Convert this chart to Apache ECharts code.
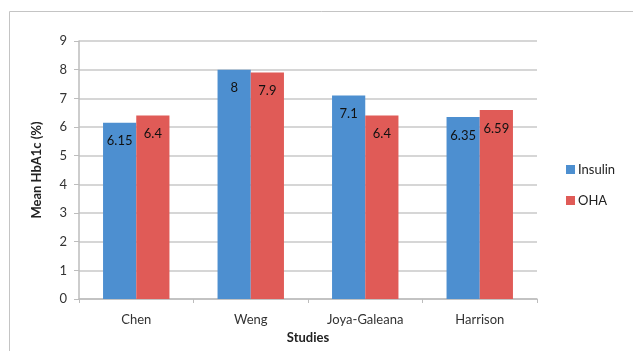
<!DOCTYPE html>
<html>
<head>
<meta charset="utf-8">
<script src="https://cdn.jsdelivr.net/npm/echarts@6/dist/echarts.min.js"></script>
<style>
  html, body { margin: 0; padding: 0; background: #fff; }
  #chart { width: 633px; height: 351px; }
</style>
</head>
<body>
<div id="chart"></div>
<script>
// Mean HbA1c by study, insulin vs oral hypoglycaemic agents
const studies = ['Chen', 'Weng', 'Joya-Galeana', 'Harrison'];
const insulin = [6.15, 8, 7.1, 6.35];
const oha = [6.4, 7.9, 6.4, 6.59];
const yTicks = [0, 1, 2, 3, 4, 5, 6, 7, 8, 9];

const FONT = 'Lato, "Open Sans", sans-serif';
const chart = echarts.init(document.getElementById('chart'), null, { renderer: 'canvas' });

const valueLabel = {
  show: true,
  position: 'insideTop',
  distance: 12,
  color: '#111',
  fontSize: 13,
  fontFamily: FONT
};

chart.setOption({
  animation: false,
  graphic: [{
    type: 'rect',
    shape: { x: 9.5, y: 11.5, width: 700, height: 400 },
    style: { fill: 'none', stroke: '#c4c4c4', lineWidth: 1 },
    silent: true
  }],
  grid: { left: 79, right: 96, top: 41, bottom: 52, containLabel: false },
  legend: {
    orient: 'vertical',
    left: 561,
    top: 158,
    itemWidth: 9,
    itemHeight: 9,
    itemGap: 18,
    icon: 'rect',
    textStyle: { fontFamily: FONT, fontSize: 13, color: '#222', padding: [0, 0, 0, -2] },
    data: ['Insulin', 'OHA']
  },
  xAxis: {
    type: 'category',
    data: studies,
    name: 'Studies',
    nameLocation: 'middle',
    nameGap: 31,
    nameTextStyle: { fontFamily: FONT, fontWeight: 'bold', fontSize: 13, color: '#222' },
    axisLine: { lineStyle: { color: '#bdbdbd', width: 1.5 } },
    axisTick: { show: true, length: 4, lineStyle: { color: '#bdbdbd' } },
    axisLabel: { fontFamily: FONT, fontSize: 13, color: '#333', margin: 14 }
  },
  yAxis: {
    type: 'value',
    min: yTicks[0],
    max: yTicks[yTicks.length - 1],
    interval: 1,
    name: 'Mean HbA1c (%)',
    nameLocation: 'middle',
    nameGap: 36,
    nameRotate: 90,
    nameTextStyle: { fontFamily: FONT, fontWeight: 'bold', fontSize: 13, color: '#222' },
    axisLine: { show: true, lineStyle: { color: '#bdbdbd', width: 1.5 } },
    axisTick: { show: true, length: 5, lineStyle: { color: '#bdbdbd' } },
    axisLabel: { fontFamily: FONT, fontSize: 13, color: '#333', margin: 12 },
    splitLine: { lineStyle: { color: '#c8c8c8', width: 1.5 } }
  },
  series: [
    {
      name: 'Insulin',
      type: 'bar',
      data: insulin,
      barGap: '0%',
      barCategoryGap: '42%',
      itemStyle: { color: '#4d8fd0' },
      label: valueLabel
    },
    {
      name: 'OHA',
      type: 'bar',
      data: oha,
      itemStyle: { color: '#e05b57' },
      label: valueLabel
    }
  ]
});
</script>
</body>
</html>
